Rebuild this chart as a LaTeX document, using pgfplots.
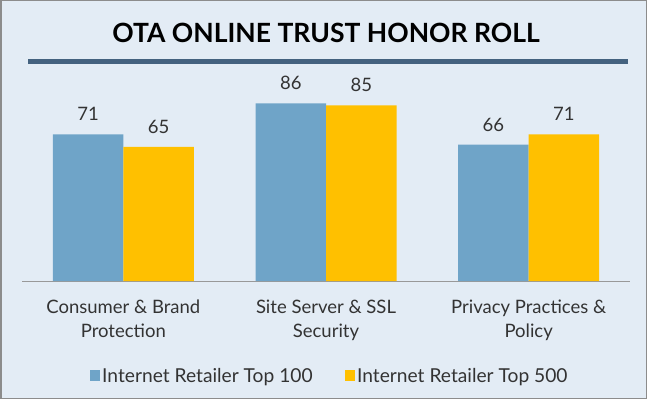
\documentclass[border=0pt]{standalone}
\usepackage{pgfplots}
\pgfplotsset{compat=1.18}
\usepackage{fontspec}
\setmainfont{Lato}
\definecolor{bgc}{HTML}{E3ECF5}
\definecolor{framec}{HTML}{8C8C8C}
\definecolor{rulec}{HTML}{44627F}
\definecolor{barblue}{HTML}{6FA4C8}
\definecolor{bargold}{HTML}{FFC000}
\definecolor{txt}{HTML}{333333}
\begin{document}
\begin{tikzpicture}[x=1pt,y=1pt]
\fill[bgc] (0,0) rectangle (647,399);
\draw[framec,line width=1.5pt] (0.75,0.75) rectangle (646.25,398.25);
\node[font=\fontsize{26.5}{30}\selectfont\bfseries] at (326,366) {OTA ONLINE TRUST HONOR ROLL};
\fill[rulec] (28,334.5) rectangle (628,339.5);
\begin{axis}[
  at={(22pt,118pt)}, anchor=south west,
  scale only axis, width=608pt, height=206.5pt,
  xmin=-0.5, xmax=2.5, ymin=0, ymax=100,
  ybar=0pt, bar width=70.5pt,
  axis x line*=bottom, axis y line=none,
  x axis line style={color=black!40, line width=0.8pt},
  xtick={0,1,2},
  xticklabels={Consumer \& Brand\\Protection, Site Server \& SSL\\Security, Privacy Practices \&\\Policy},
  xticklabel style={align=center, font=\fontsize{18.5}{24}\selectfont, text=txt, yshift=-15pt},
  major tick length=0pt,
  /pgf/number format/assume math mode=true,
  nodes near coords,
  every node near coord/.append style={font=\fontsize{18.5}{20}\selectfont, text=txt, yshift=10pt},
  clip=false,
  legend columns=2,
  legend style={at={(0.506,-0.46)}, anchor=center, draw=none, fill=none,
    font=\fontsize{19.2}{21}\selectfont, text=txt,
    /tikz/every even column/.append style={column sep=30pt}},
  legend image code/.code={\fill[#1] (-3pt,-5pt) rectangle (7.5pt,5.5pt);},
]
\addplot[fill=barblue, draw=none] coordinates {(0,71) (1,86) (2,66)};
\addplot[fill=bargold, draw=none] coordinates {(0,65) (1,85) (2,71)};
\legend{Internet Retailer Top 100, Internet Retailer Top 500}
\end{axis}
\end{tikzpicture}
\end{document}
